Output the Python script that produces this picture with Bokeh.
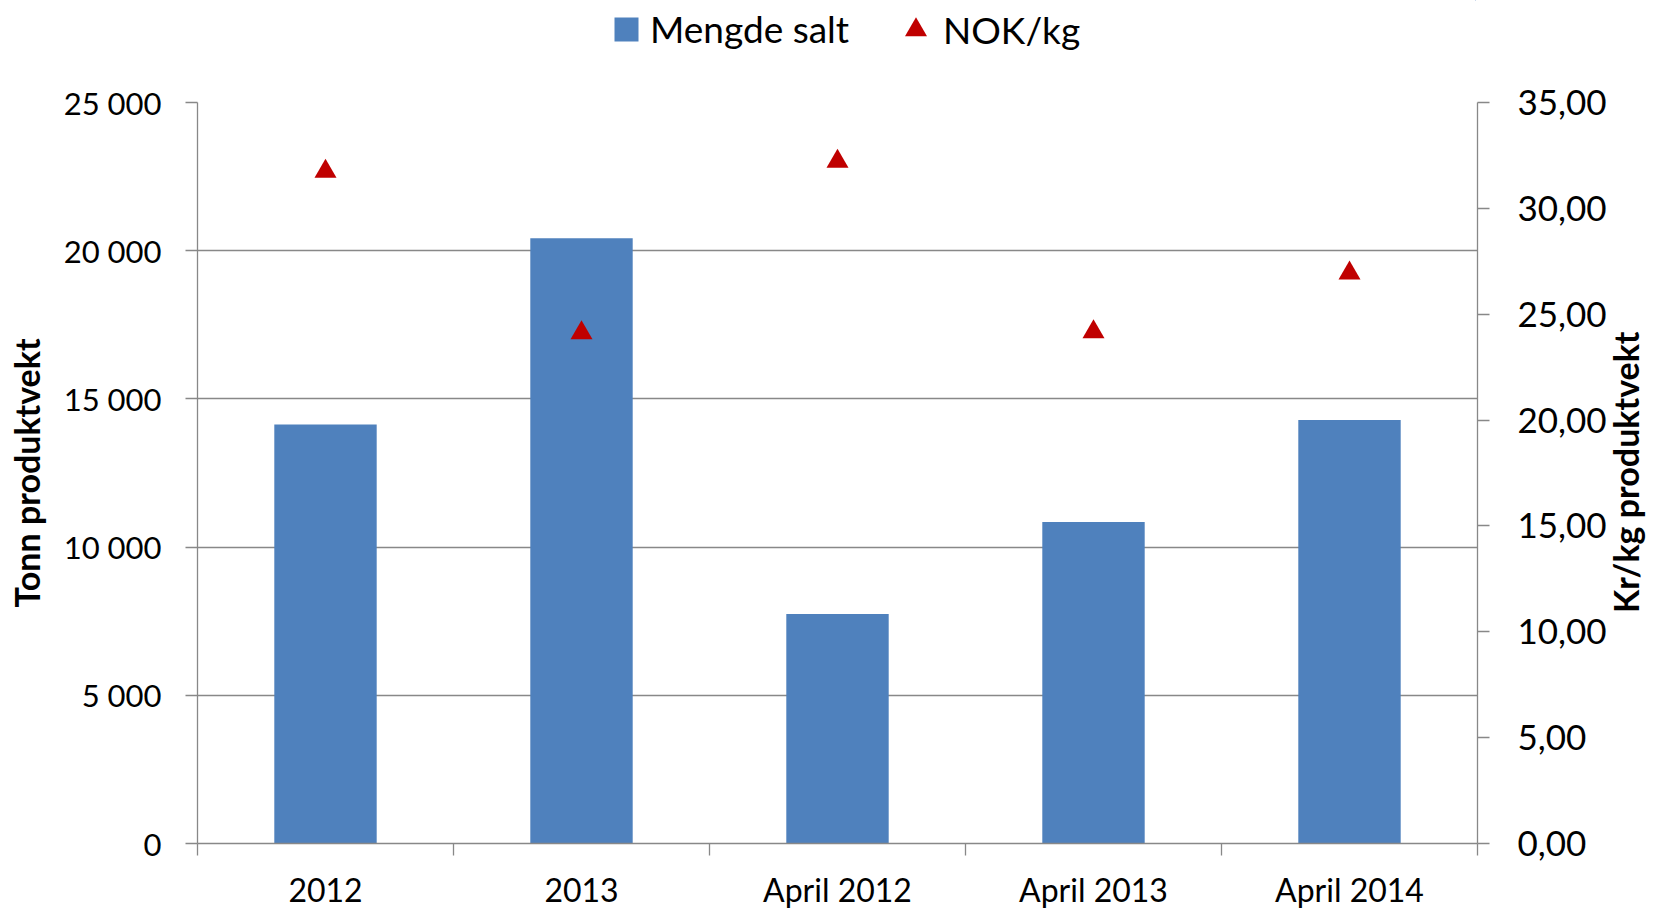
import math
from bokeh.plotting import figure
from bokeh.layouts import column
from bokeh.models import (Range1d, LinearAxis, FixedTicker, Legend, LegendItem,
                          ColumnDataSource)
from bokeh.embed import file_html
from bokeh.resources import INLINE

# ---- data ----
categories = ["2012", "2013", "April 2012", "April 2013", "April 2014"]
mengde_salt = [14140, 20420, 7740, 10850, 14290]      # Tonn produktvekt
nok_per_kg = [31.74, 24.12, 32.22, 24.16, 26.94]      # Kr/kg produktvekt
left_ticks = [0, 5000, 10000, 15000, 20000, 25000]
right_ticks = [0, 5, 10, 15, 20, 25, 30, 35]
series_names = ["Mengde salt", "NOK/kg"]
left_title = "Tonn produktvekt"
right_title = "Kr/kg produktvekt"

x_pos = [i + 0.5 for i in range(len(categories))]
boundaries = [float(i) for i in range(len(categories) + 1)]

GRID = "#888888"
FONT = "Lato"
BAR_COLOR = "#4F81BD"
TRI_COLOR = "#C00000"
PAGE_W = 1667
LEG_H = 59
FRAME_LEFT = 197
FRAME_W, FRAME_H = 1280, 741
PRICE_MAX = 35.0

src = ColumnDataSource(dict(x=x_pos, salt=mengde_salt, nok=nok_per_kg))

# ------------------------------------------------------------------ main chart
p = figure(frame_width=FRAME_W, frame_height=FRAME_H, title=None,
           output_backend="svg", toolbar_location=None,
           x_range=Range1d(0, len(categories)), y_range=Range1d(0, 25000),
           min_border_left=FRAME_LEFT, min_border_right=190,
           min_border_top=102 - LEG_H, min_border_bottom=67)
p.extra_y_ranges = {"price": Range1d(0, PRICE_MAX)}
p.outline_line_color = None
p.background_fill_color = "white"
p.border_fill_color = "white"

bars = p.vbar(x="x", top="salt", width=0.4, source=src,
              fill_color=BAR_COLOR, line_color=None)
tri = p.scatter(x="x", y="nok", marker="triangle", size=22, source=src,
                fill_color=TRI_COLOR, line_color=None, y_range_name="price")

# grid
p.xgrid.visible = False
p.ygrid.ticker = FixedTicker(ticks=left_ticks)
p.ygrid.grid_line_color = GRID
p.ygrid.grid_line_width = 1.3

# left axis
ya = p.yaxis[0]
ya.ticker = FixedTicker(ticks=left_ticks)
ya.major_label_overrides = {t: f"{t:,}".replace(",", " ") for t in left_ticks}
ya.axis_label = left_title
ya.axis_label_text_font = FONT
ya.axis_label_text_font_style = "bold"
ya.axis_label_text_font_size = "34px"
ya.axis_label_text_color = "black"
ya.axis_label_standoff = 14
ya.major_label_text_font = FONT
ya.major_label_text_font_size = "31px"
ya.major_label_text_color = "black"
ya.major_label_standoff = 24
ya.major_tick_out = 12
ya.major_tick_in = 0
ya.minor_tick_out = 0
ya.minor_tick_in = 0
ya.axis_line_color = GRID
ya.axis_line_width = 1.3
ya.major_tick_line_color = GRID
ya.major_tick_line_width = 1.3

# bottom axis: labels at category centres, ticks at category boundaries
xa = p.xaxis[0]
xa.ticker = FixedTicker(ticks=x_pos, minor_ticks=boundaries)
xa.major_label_overrides = {x: c for x, c in zip(x_pos, categories)}
xa.major_label_text_font = FONT
xa.major_label_text_font_size = "32px"
xa.major_label_text_color = "black"
xa.major_label_standoff = 14
xa.major_tick_out = 0
xa.major_tick_in = 0
xa.minor_tick_out = 12
xa.minor_tick_in = 0
xa.minor_tick_line_color = GRID
xa.minor_tick_line_width = 1.3
xa.axis_line_color = GRID
xa.axis_line_width = 1.3

# right axis (values)
ra = LinearAxis(y_range_name="price", ticker=FixedTicker(ticks=right_ticks))
ra.major_label_overrides = {t: f"{t:.2f}".replace(".", ",") for t in right_ticks}
ra.major_label_text_font = FONT
ra.major_label_text_font_size = "35px"
ra.major_label_text_color = "black"
ra.major_label_standoff = 28
ra.major_tick_out = 12
ra.major_tick_in = 0
ra.minor_tick_out = 0
ra.minor_tick_in = 0
ra.axis_line_color = GRID
ra.axis_line_width = 1.3
ra.major_tick_line_color = GRID
ra.major_tick_line_width = 1.3
p.add_layout(ra, "right")

# right axis title, reading bottom-to-top like the left one: the single label
# of an outer, line-less axis, starting half its length below the axis middle
TITLE_LEN_PX = 280
title_pos = round(PRICE_MAX / 2 - (TITLE_LEN_PX / 2) * PRICE_MAX / FRAME_H, 3)
ta = LinearAxis(y_range_name="price", ticker=FixedTicker(ticks=[title_pos]))
ta.major_label_overrides = {title_pos: right_title}
ta.major_label_orientation = math.pi / 2
ta.major_label_text_font = FONT
ta.major_label_text_font_style = "bold"
ta.major_label_text_font_size = "34px"
ta.major_label_text_color = "black"
ta.major_label_standoff = 16
ta.axis_line_color = None
ta.major_tick_line_color = None
ta.minor_tick_line_color = None
ta.major_tick_out = 0
ta.major_tick_in = 0
ta.minor_tick_out = 0
ta.minor_tick_in = 0
p.add_layout(ta, "right")

# ------------------------------------------------------------- legend strip
# (its frame is aligned with the chart's frame by the column layout; the key
#  renderers share the chart's data but sit outside this strip's ranges)
lg = figure(width=PAGE_W, height=LEG_H, title=None, output_backend="svg",
            toolbar_location=None, x_axis_type=None, y_axis_type=None,
            x_range=Range1d(-3, -2), y_range=Range1d(-3, -2), min_border=0)
lg.outline_line_color = None
lg.background_fill_color = "white"
lg.border_fill_color = "white"
key_bar = lg.vbar(x="x", top="salt", width=0.4, source=src,
                  fill_color=BAR_COLOR, line_color=None)
key_tri = lg.scatter(x="x", y="nok", marker="triangle", source=src,
                     fill_color=TRI_COLOR, line_color=None)

common = dict(orientation="horizontal", padding=0, margin=0,
              label_text_font=FONT, label_text_font_size="37px",
              label_text_color="black", background_fill_alpha=0,
              border_line_color=None)
leg_bar = Legend(items=[LegendItem(label=series_names[0], renderers=[key_bar])],
                 location=(611 - FRAME_LEFT, 8), glyph_width=30, glyph_height=30,
                 label_standoff=9, **common)
leg_tri = Legend(items=[LegendItem(label=series_names[1], renderers=[key_tri])],
                 location=(888 - FRAME_LEFT, 2), glyph_width=55, glyph_height=55,
                 label_standoff=0, **common)
lg.add_layout(leg_bar, "center")
lg.add_layout(leg_tri, "center")

layout = column(lg, p, spacing=0)
open("out.html", "w").write(file_html(layout, INLINE))
